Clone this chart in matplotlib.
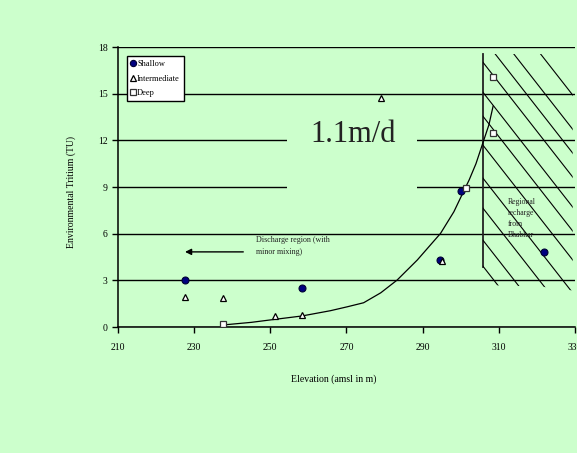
import matplotlib
matplotlib.use("Agg")
import matplotlib.pyplot as plt
import numpy as np
from matplotlib.patches import Rectangle, Polygon

plt.rcParams["font.family"] = ["Liberation Serif", "DejaVu Serif"]

BG = "#CCFFCC"

# measured samples (elevation m, tritium TU)
shallow_x = [227.6, 258.3, 294.6, 300.2, 321.8]
shallow_y = [3.0, 2.5, 4.3, 8.75, 4.8]
inter_x = [227.6, 237.5, 251.1, 258.3, 279.1, 295.1]
inter_y = [1.95, 1.85, 0.68, 0.75, 14.75, 4.25]
deep_x = [237.5, 301.4, 308.5, 308.5]
deep_y = [0.17, 8.95, 16.1, 12.45]

# model curve (1.1 m/d)
curve_x = [237.5, 245, 251.1, 258.3, 265.8, 270.2, 274.5, 279, 283.3, 288.6,
           294.7, 298.2, 300.5, 302.2, 304.0, 305.9, 307.4, 308.5]
curve_y = [0.13, 0.3, 0.49, 0.71, 1.05, 1.3, 1.56, 2.2, 3.02, 4.31,
           6.02, 7.41, 8.59, 9.45, 10.5, 11.9, 13.0, 14.2]

x_ticks = [210, 230, 250, 270, 290, 310, 330]
y_ticks = [0, 3, 6, 9, 12, 15, 18]

# recharge zone hatch lines: intercepts at the zone's left edge
hatch_edge = 305.8
hatch_top = 17.55
hatch_icpt = [22.3, 20.1, 18.57, 17.03, 15.1, 13.56, 11.7, 9.58, 7.65, 5.59, 3.92]
hatch_slope = -0.313

fig = plt.figure(figsize=(5.77, 4.53), dpi=100, facecolor=BG)
ax = fig.add_axes([0.2045, 0.2781, 0.7920, 0.6181], facecolor=BG)
ax.set_xlim(210, 330)
ax.set_ylim(0, 18)
ax.set_xticks(x_ticks)
ax.set_yticks(y_ticks)
ax.tick_params(labelsize=7, length=4, width=1, color="black")
ax.tick_params(axis="x", pad=7.5)
for s in ("top", "right"):
    ax.spines[s].set_visible(False)
for s in ("left", "bottom"):
    ax.spines[s].set_linewidth(1.1)
ax.set_axisbelow(True)
ax.yaxis.grid(True, color="black", lw=1.0)

# box behind the "1.1m/d" label hides the gridlines
ax.add_patch(Rectangle((254.5, 8.0), 34.0, 5.8, facecolor=BG, edgecolor="none", zorder=1))
ax.text(271.8, 12.4, "1.1m/d", fontsize=22, ha="center", va="center", color="#222222", zorder=2)

# recharge zone
ax.plot([hatch_edge, hatch_edge], [3.86, hatch_top], color="#222222", lw=1.3, zorder=2)
clip = Polygon([(hatch_edge, hatch_top), (329.4, hatch_top), (329.4, 2.35),
                (321.0, 2.6), (hatch_edge, 2.7)], closed=True, transform=ax.transData)
hx = np.array([hatch_edge, 340.0])
for c in hatch_icpt:
    ln, = ax.plot(hx, c + hatch_slope * (hx - hatch_edge), color="black", lw=0.8, zorder=2)
    ln.set_clip_path(clip)

ax.plot(curve_x, curve_y, color="black", lw=0.9, zorder=2)

ax.plot(shallow_x, shallow_y, "o", ms=5, mfc="#000080", mec="#000033", mew=0.8,
        ls="none", label="Shallow", zorder=4)
ax.plot(inter_x, inter_y, "^", ms=5, mfc="white", mec="black", mew=0.9,
        ls="none", label="Intermediate", zorder=4)
ax.plot(deep_x, deep_y, "s", ms=5, mfc="white", mec="#333333", mew=0.9,
        ls="none", label="Deep", zorder=4)

ax.annotate("", xy=(227.6, 4.83), xytext=(242.9, 4.83),
            arrowprops=dict(arrowstyle="-|>", color="black", lw=1.0,
                            mutation_scale=9, shrinkA=0, shrinkB=0))
ax.text(246.3, 5.2, "Discharge region (with\nminor mixing)", fontsize=5.8,
        ha="left", va="center", linespacing=1.6, color="#222222")
ax.text(312.4, 8.3, "Regional\nrecharge\nfrom\nBhabhar", fontsize=5.6,
        ha="left", va="top", linespacing=1.5, color="#222222", zorder=3)

leg = ax.legend(loc="upper left", bbox_to_anchor=(0.019, 0.967), fontsize=6,
                frameon=True, fancybox=False, framealpha=1, edgecolor="black",
                handlelength=0.6, handletextpad=0.2, borderpad=0.45,
                labelspacing=0.8, markerscale=0.9, borderaxespad=0)
leg.get_frame().set_linewidth(1.0)

ax.set_xlabel("Elevation (amsl in m)", fontsize=7)
ax.set_ylabel("Environmental Tritium (TU)", fontsize=7)
ax.xaxis.set_label_coords(0.473, -0.168)
ax.yaxis.set_label_coords(-0.092, 0.482)

fig.savefig("out.png", dpi=100, facecolor=BG)
